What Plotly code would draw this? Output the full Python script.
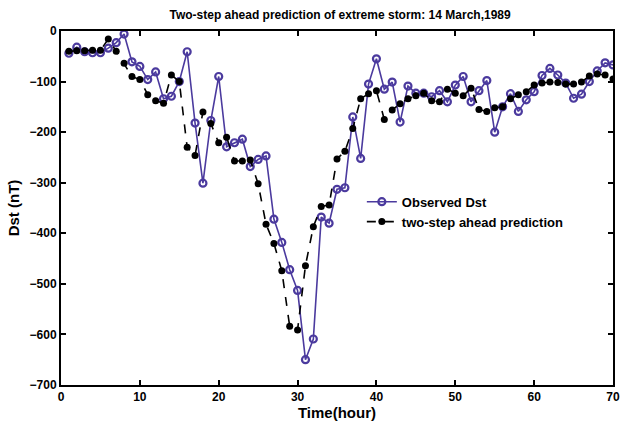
import plotly.graph_objects as go

hours = list(range(1, 71))

observed_dst = [
    -44, -32, -41, -43, -43, -34, -23, -6, -61, -70,
    -96, -81, -134, -129, -100, -41, -182, -301, -177, -90,
    -229, -221, -214, -268, -254, -247, -372, -418, -472, -513,
    -650, -609, -368, -380, -313, -310, -170, -252, -105, -55,
    -115, -101, -180, -109, -123, -123, -130, -118, -140, -107,
    -90, -140, -118, -98, -200, -150, -124, -159, -136, -120,
    -88, -74, -87, -103, -133, -125, -100, -79, -63, -67,
]

predicted_dst = [
    -40, -39, -39, -38, -38, -16, -40, -64, -90, -96,
    -126, -138, -143, -87, -100, -230, -246, -160, -183, -221,
    -210, -257, -257, -255, -302, -382, -420, -474, -584, -591,
    -464, -387, -347, -344, -253, -238, -193, -134, -124, -118,
    -175, -156, -144, -134, -128, -123, -138, -140, -115, -123,
    -128, -113, -155, -159, -152, -150, -134, -126, -120, -107,
    -103, -101, -102, -105, -105, -101, -89, -85, -87, -95,
]

x_ticks = [0, 10, 20, 30, 40, 50, 60, 70]
y_ticks = [0, -100, -200, -300, -400, -500, -600, -700]

PURPLE = "#4b3a9e"
FONT = "Liberation Sans, Arial, sans-serif"

fig = go.Figure()

fig.add_trace(go.Scatter(
    x=hours, y=observed_dst, name="Observed Dst",
    mode="lines+markers",
    line=dict(color=PURPLE, width=1.6),
    marker=dict(symbol="circle-open", size=7, color=PURPLE, line=dict(width=2.2, color=PURPLE)),
))

fig.add_trace(go.Scatter(
    x=hours, y=predicted_dst, name="two-step ahead prediction",
    mode="lines+markers",
    line=dict(color="black", width=1.6, dash="dash"),
    marker=dict(symbol="circle", size=7, color="black"),
))

axis_common = dict(
    showline=True, linecolor="black", linewidth=2, mirror="ticks",
    ticks="inside", ticklen=5, tickwidth=1.5, tickcolor="black",
    showgrid=False, zeroline=False,
    tickfont=dict(family=FONT, size=12, color="black", weight="bold"),
)

fig.update_xaxes(
    range=[0, 70], tickvals=x_ticks, ticklabeloverflow="allow",
    title=dict(text="Time(hour)", font=dict(family=FONT, size=15, color="black", weight="bold"), standoff=2),
    **axis_common,
)
fig.update_yaxes(
    range=[-700, 0], tickvals=y_ticks,
    title=dict(text="Dst (nT)", font=dict(family=FONT, size=15, color="black", weight="bold"), standoff=6),
    **axis_common,
)

fig.update_layout(
    width=624, height=426,
    margin=dict(l=61, r=4, t=31, b=41),
    paper_bgcolor="white", plot_bgcolor="white",
    title=dict(
        text="Two-step ahead prediction of extreme storm: 14 March,1989",
        font=dict(family=FONT, size=12, color="black", weight="bold"),
        x=0.545, xanchor="center", y=0.975, yanchor="top",
    ),
    legend=dict(
        x=0.545, y=0.56, xanchor="left", yanchor="top",
        bgcolor="rgba(0,0,0,0)", borderwidth=0,
        font=dict(family=FONT, size=13, color="black", weight="bold"),
        tracegroupgap=2,
    ),
    showlegend=True,
)

fig.write_html("out.html")
